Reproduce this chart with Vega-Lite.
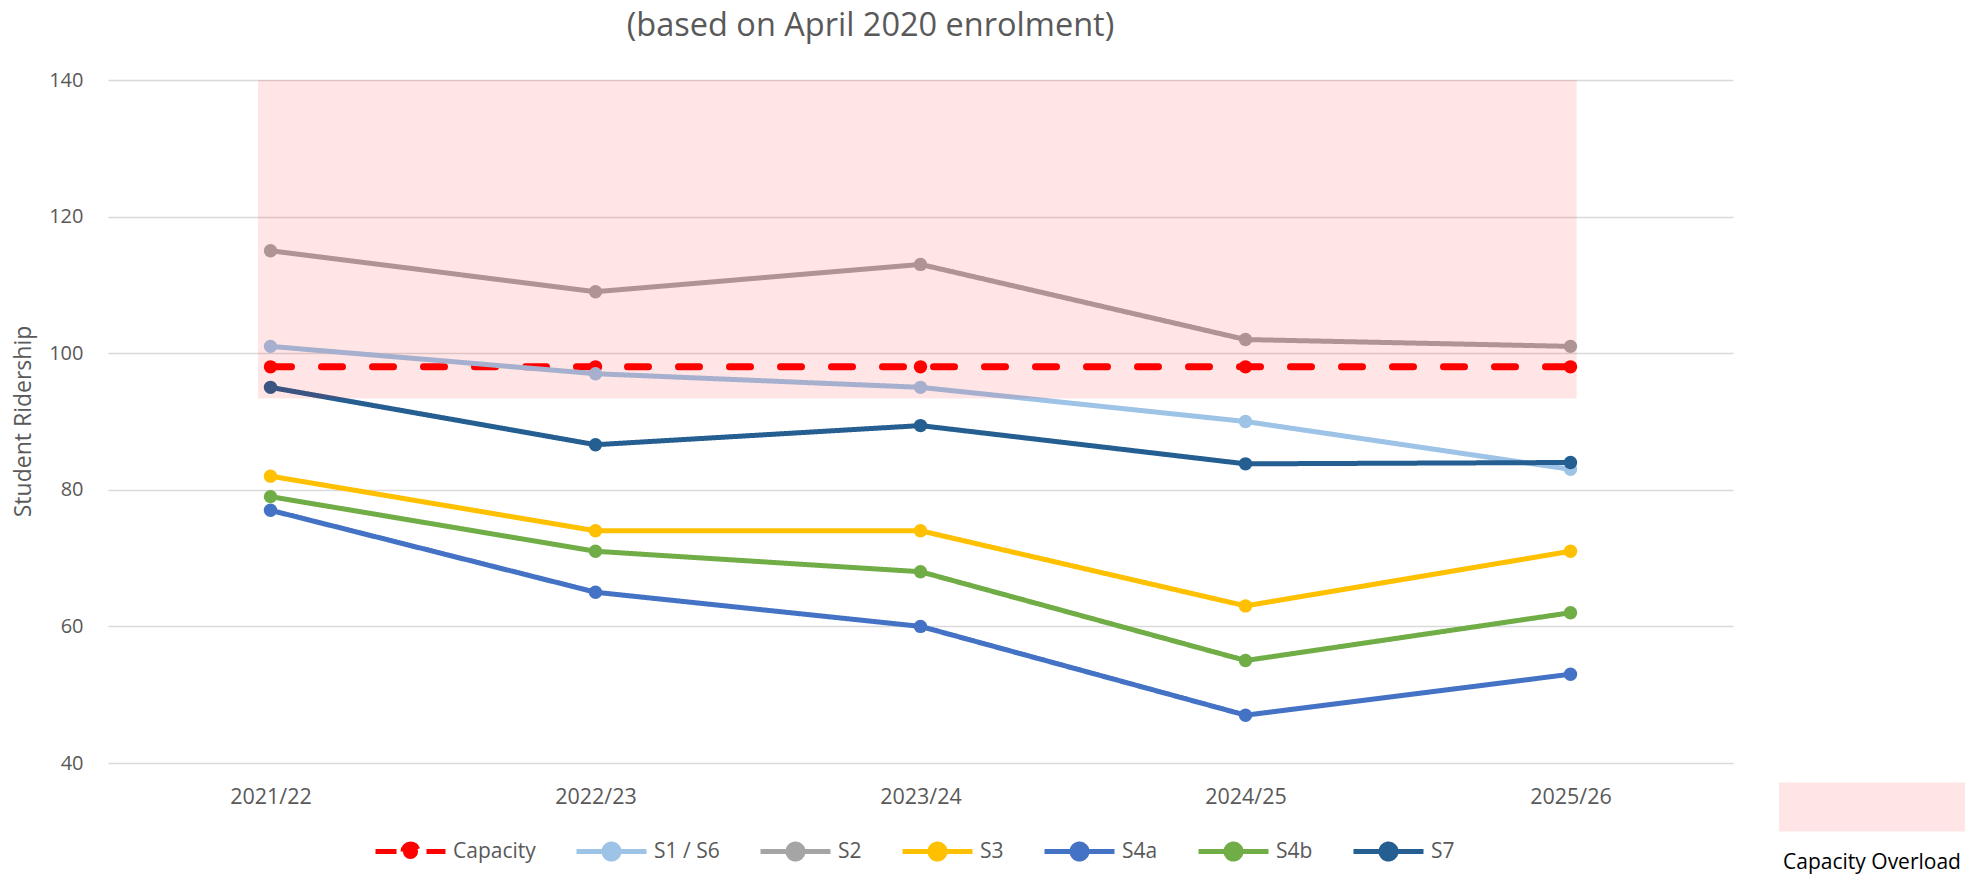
{
  "$schema": "https://vega.github.io/schema/vega-lite/v6.json",
  "width": 1625,
  "height": 683,
  "autosize": {"type": "none"},
  "padding": {"left": 108, "top": 80, "right": 255, "bottom": 112},
  "background": "white",
  "title": {
    "text": "(based on April 2020 enrolment)",
    "font": "Open Sans",
    "fontSize": 32.5,
    "fontWeight": "normal",
    "color": "#595959",
    "anchor": "middle",
    "dx": -50,
    "baseline": "alphabetic",
    "offset": 2
  },
  "config": {
    "view": {"stroke": null},
    "axis": {"labelFont": "Open Sans", "labelColor": "#595959", "titleFont": "Open Sans", "titleColor": "#595959", "titleFontWeight": "normal"}
  },
  "datasets": {
    "main": [
      {"year": "2021/22", "series": "Capacity", "value": 98},
      {"year": "2022/23", "series": "Capacity", "value": 98},
      {"year": "2023/24", "series": "Capacity", "value": 98},
      {"year": "2024/25", "series": "Capacity", "value": 98},
      {"year": "2025/26", "series": "Capacity", "value": 98},
      {"year": "2021/22", "series": "S1 / S6", "value": 101},
      {"year": "2022/23", "series": "S1 / S6", "value": 97},
      {"year": "2023/24", "series": "S1 / S6", "value": 95},
      {"year": "2024/25", "series": "S1 / S6", "value": 90},
      {"year": "2025/26", "series": "S1 / S6", "value": 83},
      {"year": "2021/22", "series": "S2", "value": 115},
      {"year": "2022/23", "series": "S2", "value": 109},
      {"year": "2023/24", "series": "S2", "value": 113},
      {"year": "2024/25", "series": "S2", "value": 102},
      {"year": "2025/26", "series": "S2", "value": 101},
      {"year": "2021/22", "series": "S3", "value": 82},
      {"year": "2022/23", "series": "S3", "value": 74},
      {"year": "2023/24", "series": "S3", "value": 74},
      {"year": "2024/25", "series": "S3", "value": 63},
      {"year": "2025/26", "series": "S3", "value": 71},
      {"year": "2021/22", "series": "S4a", "value": 77},
      {"year": "2022/23", "series": "S4a", "value": 65},
      {"year": "2023/24", "series": "S4a", "value": 60},
      {"year": "2024/25", "series": "S4a", "value": 47},
      {"year": "2025/26", "series": "S4a", "value": 53},
      {"year": "2021/22", "series": "S4b", "value": 79},
      {"year": "2022/23", "series": "S4b", "value": 71},
      {"year": "2023/24", "series": "S4b", "value": 68},
      {"year": "2024/25", "series": "S4b", "value": 55},
      {"year": "2025/26", "series": "S4b", "value": 62},
      {"year": "2021/22", "series": "S7", "value": 95},
      {"year": "2022/23", "series": "S7", "value": 86.6},
      {"year": "2023/24", "series": "S7", "value": 89.4},
      {"year": "2024/25", "series": "S7", "value": 83.8},
      {"year": "2025/26", "series": "S7", "value": 84}
    ],
    "zone": [
      {"x0": 0.4615, "x1": 4.519, "y0": 93.36, "y1": 140, "label": "Capacity Overload"}
    ]
  },
  "layer": [
    {
      "data": {"name": "main"},
      "layer": [
        {
          "mark": {"type": "line", "strokeCap": "round", "strokeJoin": "round"},
          "encoding": {
            "x": {"field": "year", "type": "ordinal", "scale": {"type": "point", "padding": 0.5}, "axis": {"title": null, "domain": false, "ticks": false, "grid": false, "labelFontSize": 21.5, "labelPadding": 23, "labelAngle": 0}},
            "y": {"field": "value", "type": "quantitative", "scale": {"domain": [40, 140], "nice": false, "zero": false}, "axis": {"title": "Student Ridership", "titleFontSize": 23, "titleX": -85, "titleY": 341, "titleBaseline": "middle", "titleAngle": 270, "titleAlign": "center", "values": [40, 60, 80, 100, 120, 140], "domain": false, "ticks": false, "gridColor": "#D9D9D9", "gridWidth": 1.3, "labelFontSize": 20, "labelPadding": 25}},
            "color": {"field": "series", "type": "nominal", "sort": null,
              "scale": {"domain": ["Capacity", "S1 / S6", "S2", "S3", "S4a", "S4b", "S7"], "range": ["#FF0000", "#9DC3E6", "#A5A5A5", "#FFC000", "#4472C4", "#70AD47", "#255E91"]},
              "legend": {"orient": "none", "legendX": 265, "legendY": 734, "direction": "horizontal", "title": null,
                "symbolType": "M-1,0L1,0M-0.214,0A0.214,0.214,0,1,1,0.214,0A0.214,0.214,0,1,1,-0.214,0Z",
                "symbolSize": 4900, "symbolStrokeWidth": 5, "labelFontSize": 21, "labelFont": "Open Sans", "labelColor": "#595959", "labelOffset": 5, "columnPadding": 30, "padding": 0}},
            "strokeDash": {"field": "series", "type": "nominal", "sort": null,
              "scale": {"domain": ["Capacity", "S1 / S6", "S2", "S3", "S4a", "S4b", "S7"], "range": [[21, 30], [1, 0], [1, 0], [1, 0], [1, 0], [1, 0], [1, 0]]},
              "legend": {"orient": "none", "legendX": 265, "legendY": 734, "direction": "horizontal", "title": null,
                "symbolType": "M-1,0L1,0M-0.214,0A0.214,0.214,0,1,1,0.214,0A0.214,0.214,0,1,1,-0.214,0Z",
                "symbolSize": 4900, "symbolStrokeWidth": 5, "labelFontSize": 21, "labelFont": "Open Sans", "labelColor": "#595959", "labelOffset": 5, "columnPadding": 30, "padding": 0}},
            "strokeWidth": {"condition": {"test": "datum.series === 'Capacity'", "value": 7}, "value": 5}
          }
        },
        {
          "mark": {"type": "point", "filled": true, "size": 180, "opacity": 1},
          "encoding": {
            "x": {"field": "year", "type": "ordinal", "scale": {"type": "point", "padding": 0.5}},
            "y": {"field": "value", "type": "quantitative", "scale": {"domain": [40, 140], "nice": false, "zero": false}},
            "color": {"field": "series", "type": "nominal", "sort": null,
              "legend": {"orient": "none", "legendX": 265, "legendY": 734, "direction": "horizontal", "title": null,
                "symbolType": "M-1,0L1,0M-0.214,0A0.214,0.214,0,1,1,0.214,0A0.214,0.214,0,1,1,-0.214,0Z",
                "symbolSize": 4900, "symbolStrokeWidth": 5, "labelFontSize": 21, "labelFont": "Open Sans", "labelColor": "#595959", "labelOffset": 5, "columnPadding": 30, "padding": 0}}
          }
        }
      ]
    },
    {
      "data": {"name": "zone"},
      "mark": {"type": "rect", "opacity": 0.1},
      "encoding": {
        "x": {"field": "x0", "type": "quantitative", "scale": {"domain": [0, 5], "nice": false, "zero": false}, "axis": null},
        "x2": {"field": "x1"},
        "y": {"field": "y0", "type": "quantitative", "scale": {"domain": [40, 140], "nice": false, "zero": false}},
        "y2": {"field": "y1"},
        "fill": {"field": "label", "type": "nominal", "scale": {"range": ["#FF0000"]},
          "legend": {"orient": "none", "legendX": 1671, "legendY": 634, "direction": "vertical", "title": "Capacity Overload", "titleOrient": "bottom", "titleAnchor": "middle", "titleFont": "Open Sans", "titleFontSize": 21, "titleFontWeight": "normal", "titleColor": "#000000", "titlePadding": 21, "labelExpr": "''", "labelOffset": 0, "padding": 0,
            "symbolType": "M-1,-0.263H1V0.263H-1Z", "symbolSize": 34596, "symbolStrokeWidth": 0}
        }
      }
    }
  ],
  "resolve": {"scale": {"x": "independent"}, "axis": {"x": "independent"}}
}
